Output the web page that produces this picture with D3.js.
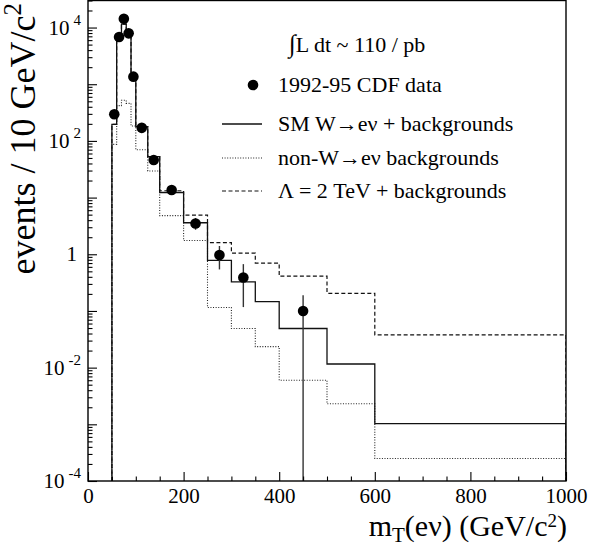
<!DOCTYPE html>
<html>
<head>
<meta charset="utf-8">
<script src="https://cdn.jsdelivr.net/npm/d3@7"></script>
<style>
  html, body { margin: 0; padding: 0; background: #fff; }
  svg { display: block; }
  text { font-family: "Liberation Serif", "Times New Roman", "DejaVu Serif", serif; fill: #000; }
</style>
</head>
<body>
<svg id="chart" width="589" height="550"></svg>
<script>
// ---------- data ----------
const binEdges = [50, 60, 70, 80, 90, 100, 125, 150, 200, 250, 300, 350, 400, 500, 600, 1000];
const smValues = [196, 6500, 11500, 7900, 1350, 178, 52.7, 12.3, 3.6, 0.78, 0.325, 0.146, 0.049, 0.0116, 0.00103];
const nonWValues = [87, 420, 520, 460, 183, 70, 29.5, 4.8, 1.75, 0.115, 0.049, 0.0235, 0.006, 0.0023, 0.00025];
const lambdaValues = [196, 6500, 11500, 7900, 1350, 178, 52.7, 13.2, 4.9, 1.6, 1.05, 0.70, 0.41, 0.205, 0.0377];

const dataX = [55, 65, 75, 85, 95, 112.5, 137.5, 175, 225, 275, 325, 450];
const dataY = [295, 6800, 14300, 7900, 1360, 170, 46, 13.6, 3.5, 0.97, 0.39, 0.1];
const dataLow = [278, 6720, 14180, 7810, 1323, 162, 41.7, 12.0, 2.7, 0.54, 0.117, 0];
const dataHigh = [312, 6880, 14420, 7990, 1397, 178, 50.3, 15.3, 4.35, 1.4, 0.67, 0.19];

const xMajorTicks = [0, 200, 400, 600, 800, 1000];
const xMinorTicks = [50, 100, 150, 250, 300, 350, 450, 500, 550, 650, 700, 750, 850, 900, 950];
const yLabelTicks = [
  { v: 1e4, base: "10", exp: "4" },
  { v: 1e2, base: "10", exp: "2" },
  { v: 1, base: "1", exp: "" },
  { v: 1e-2, base: "10", exp: "-2" },
  { v: 1e-4, base: "10", exp: "-4" }
];
const yDomain = [1e-4, 3e4];

const legendEntries = [
  { kind: "marker", label: "1992-95 CDF data" },
  { kind: "solid", label: "SM W\u2192e\u03bd + backgrounds" },
  { kind: "dotted", label: "non-W\u2192e\u03bd backgrounds" },
  { kind: "dashed", label: "\u039b = 2 TeV + backgrounds" }
];

// ---------- layout ----------
const L = 88, R = 566, T = 0.5, B = 481;
const svg = d3.select("#chart");
const x = d3.scaleLinear().domain([0, 1000]).range([L, R]);
const y = d3.scaleLog().domain(yDomain).range([B, T]);

svg.append("clipPath").attr("id", "clip")
  .append("rect").attr("x", L).attr("y", T).attr("width", R - L).attr("height", B - T);

const styles = {
  solid: { dash: null, w: 1.3, c: "#111" },
  dotted: { dash: "1,1.6", w: 1.1, c: "#222" },
  dashed: { dash: "4,2.5", w: 1.2, c: "#111" }
};

function histPoints(vals) {
  const pts = [[binEdges[0], yDomain[0]]];
  vals.forEach((v, i) => {
    pts.push([binEdges[i], v]);
    pts.push([binEdges[i + 1], v]);
  });
  pts.push([binEdges[binEdges.length - 1], yDomain[0]]);
  return pts;
}
const line = d3.line().x(d => x(d[0])).y(d => y(Math.max(d[1], yDomain[0])));

const g = svg.append("g").attr("clip-path", "url(#clip)");
[["dotted", nonWValues], ["dashed", lambdaValues], ["solid", smValues]].forEach(([k, vals]) => {
  const s = styles[k];
  g.append("path").datum(histPoints(vals))
    .attr("d", line).attr("fill", "none")
    .attr("stroke", s.c).attr("stroke-width", s.w)
    .attr("stroke-dasharray", s.dash);
});

// data error bars + markers
const pts = dataX.map((d, i) => ({ x: d, y: dataY[i], lo: dataLow[i], hi: dataHigh[i] }));
g.selectAll(".err").data(pts).enter().append("line")
  .attr("x1", d => x(d.x)).attr("x2", d => x(d.x))
  .attr("y1", d => y(Math.max(d.lo, yDomain[0]))).attr("y2", d => y(d.hi))
  .attr("stroke", "#333").attr("stroke-width", 1.4);
g.selectAll(".dot").data(pts).enter().append("circle")
  .attr("cx", d => x(d.x)).attr("cy", d => y(d.y)).attr("r", 5.3).attr("fill", "#000");

// ---------- axes ----------
const xAxisMajor = d3.axisBottom(x).tickValues(xMajorTicks).tickSize(-9).tickPadding(7).tickFormat(d3.format("d"));
const xAxisMinor = d3.axisBottom(x).tickValues(xMinorTicks).tickSize(-4.5).tickFormat("");
const gxm = svg.append("g").attr("transform", `translate(0,${B})`).call(xAxisMinor);
const gx = svg.append("g").attr("transform", `translate(0,${B})`).call(xAxisMajor);
[gx, gxm].forEach(a => {
  a.select(".domain").remove();
  a.selectAll("line").attr("stroke", "#000").attr("stroke-width", 1.1);
});
gx.selectAll("text").attr("font-size", 21).attr("font-family", "Liberation Serif, serif");

// y ticks: decades major, 2..9 minor
const decades = d3.range(-4, 5).map(e => Math.pow(10, e));
const minors = [];
d3.range(-4, 5).forEach(e => { for (let m = 2; m <= 9; m++) { const v = m * Math.pow(10, e); if (v <= yDomain[1]) minors.push(v); } });
const yAxisMajor = d3.axisLeft(y).tickValues(decades).tickSize(-9).tickFormat("");
const yAxisMinor = d3.axisLeft(y).tickValues(minors).tickSize(-4.5).tickFormat("");
const gym = svg.append("g").attr("transform", `translate(${L},0)`).call(yAxisMinor);
const gy = svg.append("g").attr("transform", `translate(${L},0)`).call(yAxisMajor);
[gy, gym].forEach(a => {
  a.select(".domain").remove();
  a.selectAll("line").attr("stroke", "#000").attr("stroke-width", 1.1);
});

// y labels with superscripts
const yl = svg.append("g");
yLabelTicks.forEach(t => {
  const tx = yl.append("text").attr("text-anchor", "end")
    .attr("x", t.exp ? 81 : 77).attr("y", y(t.v) + 7).attr("font-size", 21);
  tx.append("tspan").text(t.base);
  if (t.exp) {
    tx.append("tspan").attr("dx", 4).attr("dy", -10).attr("font-size", 15).text(t.exp);
  }
});

// frame
svg.append("rect").attr("x", L).attr("y", T).attr("width", R - L).attr("height", B - T)
  .attr("fill", "none").attr("stroke", "#000").attr("stroke-width", 1.4);

// ---------- titles ----------
const xt = svg.append("text").attr("text-anchor", "end").attr("x", 567).attr("y", 536).attr("font-size", 30);
xt.append("tspan").text("m");
xt.append("tspan").attr("font-size", 21).attr("dy", 6).text("T");
xt.append("tspan").attr("dy", -6).text("(e\u03bd) (GeV/c");
xt.append("tspan").attr("font-size", 19).attr("dy", -9).text("2");
xt.append("tspan").attr("dy", 9).text(")");

const yt = svg.append("text").attr("text-anchor", "end")
  .attr("transform", "translate(35,3) rotate(-90)").attr("font-size", 36);
yt.append("tspan").text("events / 10 GeV/c");
yt.append("tspan").attr("font-size", 25).attr("dy", -14).text("2");

// ---------- legend ----------
const lum = svg.append("text").attr("x", 289).attr("y", 52).attr("font-size", 22);
lum.append("tspan").attr("font-size", 25).text("\u222b");
lum.append("tspan").text("L dt ~ 110 / pb");

const legRowsY = [85, 124, 158, 191];
legendEntries.forEach((e, i) => {
  const cy = legRowsY[i];
  if (e.kind === "marker") {
    svg.append("circle").attr("cx", 253).attr("cy", cy).attr("r", 5.3).attr("fill", "#000");
  } else {
    const s = styles[e.kind];
    svg.append("line").attr("x1", 222).attr("x2", 262).attr("y1", cy).attr("y2", cy)
      .attr("stroke", s.c).attr("stroke-width", s.w).attr("stroke-dasharray", s.dash);
  }
  svg.append("text").attr("x", 278).attr("y", cy + 7).attr("font-size", 22).text(e.label);
});
</script>
</body>
</html>
